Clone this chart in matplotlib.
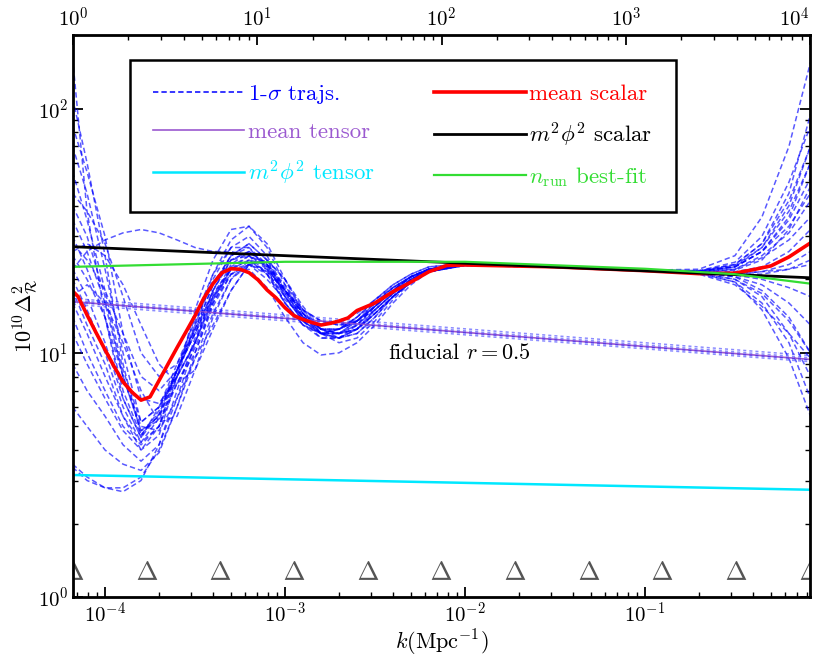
import numpy as np
import matplotlib
matplotlib.use("Agg")
import matplotlib.pyplot as plt

plt.rcParams['font.family'] = 'cmr10'
plt.rcParams['mathtext.fontset'] = 'cm'
plt.rcParams['axes.unicode_minus'] = False
plt.rcParams['axes.formatter.use_mathtext'] = True

# k range of the plot (Mpc^-1)
k_min, k_max = 6.64e-5, 0.826

# knot positions (shown as Delta markers)
knots = [6.64e-5, 1.70e-4, 4.38e-4, 1.12e-3, 2.88e-3, 7.40e-3,
         1.90e-2, 4.88e-2, 1.25e-1, 3.22e-1, 8.26e-1]

# mean scalar spectrum
red_logk = [-4.18, -4.15, -4.10, -4.05, -4.00, -3.95, -3.90, -3.85, -3.80, -3.75,
            -3.70, -3.65, -3.60, -3.55, -3.50, -3.45, -3.40, -3.35, -3.30, -3.25,
            -3.20, -3.15, -3.10, -3.05, -3.00, -2.95, -2.90, -2.85, -2.80, -2.75,
            -2.70, -2.65, -2.60, -2.50, -2.40, -2.30, -2.20, -2.10, -2.00, -1.50,
            -1.00, -0.70, -0.50, -0.40, -0.30, -0.20, -0.14, -0.08]
mean_scalar = [17.9, 17.0, 14.3, 12.1, 10.3, 8.8, 7.6, 6.9, 6.4, 6.6,
               7.7, 9.0, 10.5, 12.2, 14.2, 16.8, 19.2, 21.3, 22.1, 22.0,
               21.3, 19.9, 18.1, 16.8, 15.3, 14.2, 13.7, 13.3, 13.0, 13.2,
               13.5, 13.9, 14.9, 16.0, 17.8, 19.5, 21.5, 22.8, 22.9, 22.5,
               21.7, 21.1, 21.2, 21.9, 22.7, 24.7, 26.4, 28.2]

# k grid (log10 k) for the 1-sigma trajectories
logk = [-4.18, -4.1, -4.0, -3.9, -3.8, -3.7, -3.6, -3.5, -3.4, -3.3, -3.2,
        -3.1, -3.0, -2.9, -2.8, -2.7, -2.6, -2.5, -2.4, -2.3, -2.2, -2.0,
        -1.5, -1.0, -0.7, -0.5, -0.35, -0.2, -0.08]

trajs = [
    [160, 38, 14, 6.5, 4.5, 6, 9, 13.5, 19.5, 24, 25, 21, 16, 13, 12, 12.5, 14, 16.5, 19, 21, 22.5, 23.2, 22.6, 21.8, 21.3, 21, 21.5, 23, 26],
    [110, 60, 25, 9, 4.6, 5.8, 8.5, 12.5, 19, 25, 28, 24, 17, 13.5, 12, 12.5, 14, 16, 18.5, 20.5, 22, 23, 22.5, 21.7, 21.6, 22.5, 26, 36, 60],
    [70, 45, 22, 10, 5.2, 6, 8, 11, 17, 23, 26, 23, 18, 14.5, 12.5, 12.5, 13.5, 15.5, 18, 20, 21.5, 22.8, 22.4, 21.8, 21.6, 23, 28, 45, 95],
    [45, 38, 28, 17, 10, 8, 9, 12.5, 17.5, 22, 23, 20, 16.5, 14, 13, 13.5, 14.5, 16.5, 18.5, 20.5, 22, 23, 22.5, 21.8, 21.4, 21.8, 24, 32, 48],
    [3.4, 3.0, 2.8, 2.7, 3.0, 4.2, 7, 11.5, 17, 22, 24, 21, 16, 13, 11.5, 11.5, 13, 15.5, 18, 20.5, 22, 23, 22.4, 21.7, 21.2, 20, 17, 12, 8],
    [3.5, 3.1, 2.8, 2.8, 3.1, 4, 6, 9.5, 14.5, 20, 23, 22, 18, 14.5, 12.5, 12, 12.5, 14.5, 17, 19.5, 21.5, 22.8, 22.5, 21.8, 21.4, 20.5, 18, 14, 10],
    [16, 12, 8, 5.5, 4.3, 5, 8, 13, 20, 27, 30, 25, 18, 13.5, 11.5, 11.5, 12.5, 15, 17.5, 20, 22, 23, 22.5, 21.8, 21.5, 22.5, 26, 35, 52],
    [22, 26, 29, 31, 32, 31, 29, 27, 26, 26, 25, 22, 18, 15, 13.5, 13, 13.5, 15.5, 18, 20.5, 22, 23, 22.6, 21.8, 21.4, 21.5, 22.5, 26, 32],
    [25, 20, 14, 8, 5, 4.8, 6.5, 9.5, 13, 18, 23, 24, 20, 15, 12, 11, 11.5, 13.5, 16.5, 19.5, 21.5, 23, 22.5, 21.8, 21.2, 19.5, 15, 9.5, 5.5],
    [30, 22, 14, 7, 4.6, 5.6, 8.5, 13, 21, 29, 33, 28, 20, 14.5, 12, 11.5, 12, 14, 17, 19.5, 21.5, 23, 22.5, 21.8, 21.7, 23.5, 30, 50, 85],
    [18, 13, 9, 5.5, 4.0, 5.0, 7.5, 10.5, 16, 21, 22, 18.5, 14, 11, 9.8, 10, 11, 13, 16, 19, 21.5, 23, 22.5, 21.8, 21.1, 19.5, 16, 11, 6.5],
    [22, 17, 11, 6.5, 4.5, 5.6, 8.5, 12, 18, 24, 26, 22.5, 17.5, 14, 12.5, 12.5, 13.5, 15, 17.5, 20, 22, 23, 22.5, 21.7, 21.6, 22.8, 27, 38, 60],
    [55, 35, 18, 8.5, 5.2, 6, 8.5, 12, 18, 24, 26, 23, 18, 14.5, 12.5, 12.5, 13.5, 15.5, 18, 20.5, 22, 23, 22.5, 21.8, 21.2, 20.5, 19, 16, 13],
    [9, 7, 5.5, 4.2, 3.6, 4.2, 6.5, 11, 18, 25, 28, 24, 18, 14, 12, 12, 13, 15, 17.5, 20, 22, 23, 22.5, 21.8, 21.5, 22, 25, 31, 42],
    [28, 24, 18, 12, 8, 7, 8.5, 12, 17, 21, 23, 21.5, 18, 15, 13.5, 13, 13.5, 15.5, 18, 20.5, 22, 23, 22.5, 21.8, 21.5, 22, 24.5, 29, 36],
    [14, 10, 7, 5, 4.2, 5, 8.5, 14, 21, 27, 27, 22, 16, 13, 12, 12.5, 14, 16.5, 19, 21, 22.5, 23.2, 22.6, 21.8, 21.0, 19.0, 15.5, 12, 9.5],
    [40, 30, 17, 8, 4.8, 5.5, 8, 11, 16.5, 22, 24, 21.5, 17, 13.5, 12, 12, 13.5, 16, 18.5, 20.5, 22, 23, 22.5, 21.8, 22.0, 25, 36, 70, 155],
    [20, 15, 10, 6, 4.3, 5.4, 8.5, 12.5, 19, 25, 27, 23, 17, 13.5, 12, 11.5, 12.5, 14.5, 17, 19.5, 21.5, 23, 22.5, 21.8, 21.3, 20.8, 20, 18.5, 17],
    [85, 55, 30, 12, 6.5, 6.2, 8, 11, 16.5, 22.5, 25, 22.5, 17.5, 14, 12.5, 12, 13, 15.5, 18, 20.5, 22, 23, 22.5, 21.8, 21.6, 22.5, 26, 33, 45],
    [6, 5, 4, 3.5, 3.3, 3.9, 6, 10, 15.5, 21, 23, 21, 17, 14, 12.5, 12, 12.5, 14.5, 17, 19.5, 21.5, 22.8, 22.4, 21.8, 21.4, 21, 21, 22, 24],
    [26, 28, 25, 19, 13, 9, 7.5, 8.5, 12.5, 18, 23, 24, 20, 15.5, 12.5, 11.5, 12, 14, 17, 19.5, 21.5, 23, 22.5, 21.8, 21.4, 21.2, 21.5, 22, 23],
    [12, 9, 6.5, 4.8, 4, 4.6, 8, 15, 24, 32, 33, 27, 19, 14, 12, 12, 13.5, 16, 18.5, 20.5, 22, 23, 22.5, 21.8, 21.5, 22.5, 27, 40, 70],
    [17, 19, 16, 11, 7, 5.2, 5.5, 8.5, 14, 20, 24, 23, 19, 15, 12.5, 12, 12.5, 14.5, 17, 19.5, 21.5, 22.8, 22.5, 21.8, 21.2, 20, 17.5, 13.5, 10],
    [35, 26, 16, 8, 4.8, 5.3, 7.5, 10, 16, 22, 25, 23, 18.5, 14.5, 12, 11.5, 12.5, 15, 17.5, 20, 22, 23, 22.5, 21.8, 21.7, 23, 28, 42, 70],
]

# tensor curves (fiducial r = 0.5), values at k_min and k_max
mean_tensor = [16.2, 9.4]
tensor_trajs = [[15.8, 9.2], [16.1, 9.35], [16.4, 9.55], [16.7, 9.75]]
m2phi2_tensor = [3.16, 2.75]
m2phi2_scalar = [27.2, 20.3]

# running best fit
nrun_logk = [-4.18, -3.0, -2.0, -1.0, -0.5, -0.08]
nrun_fit = [22.5, 23.6, 23.6, 22.1, 21.0, 19.2]

k_ends = [k_min, k_max]

fig = plt.figure(figsize=(8.17, 6.61), dpi=100)
ax = fig.add_axes([0.0894, 0.0968, 0.902, 0.850])

for i, t in enumerate(trajs):
    ax.plot(10.0 ** np.array(logk), t, ls='--', dashes=(3.5, 2), color='blue',
            lw=1.1, alpha=0.65, label='1-$\\sigma$ trajs.' if i == 0 else None)

ax.plot(k_ends, mean_tensor, color='#9b59d0', lw=1.2, label='mean tensor')
for t in tensor_trajs:
    ax.plot(k_ends, t, ls='--', dashes=(2, 2), color='blue', lw=1.1, alpha=0.45)
ax.plot(k_ends, m2phi2_tensor, color='#00e8ff', lw=1.8, label='$m^2\\phi^2$ tensor')
ax.plot(10.0 ** np.array(red_logk), mean_scalar, color='red', lw=2.6,
        solid_joinstyle='round', label='mean scalar')
ax.plot(k_ends, m2phi2_scalar, color='black', lw=2.0, label='$m^2\\phi^2$ scalar')
ax.plot(10.0 ** np.array(nrun_logk), nrun_fit, color='#33dd33', lw=1.6,
        label='$n_{\\rm run}$ best-fit')

ax.plot(knots, [1.29] * len(knots), ls='none', marker='$\\Delta$', ms=14,
        color='#555555', mew=0)

ax.text(3.73e-3, 10.0, 'fiducial $r = 0.5$', fontsize=16, ha='left', va='center')

ax.set_xscale('log')
ax.set_yscale('log')
ax.set_xlim(k_min, k_max)
ax.set_ylim(1, 200)
ax.set_xlabel('$k(\\mathrm{Mpc}^{-1})$', fontsize=16, labelpad=1)
ax.set_ylabel('$10^{10}\\Delta^2_{\\mathcal{R}}$', fontsize=16, labelpad=-2)
ax.tick_params(which='both', direction='in', top=False, right=True, labelsize=15)
ax.tick_params(which='major', length=7, width=1.3)
ax.tick_params(which='minor', length=3.5, width=1.0)
for s in ax.spines.values():
    s.set_linewidth(2.0)

ax2 = ax.twiny()
ax2.set_xscale('log')
ax2.set_xlim(1, 1e4)
ax2.set_xticks([1, 10, 100, 1000, 10000])
ax2.set_xticklabels(['$10^0$', '$10^1$', '$10^2$', '$10^3$', '$10^4$'])
ax2.get_xticklabels()[-1].set_horizontalalignment('right')
ax2.tick_params(which='both', direction='in', labelsize=15)
ax2.tick_params(which='major', length=7, width=1.3)
ax2.tick_params(which='minor', length=3.5, width=1.0)

leg = ax.legend(ncol=2, loc='upper left', bbox_to_anchor=(0.077, 0.955),
                borderaxespad=0, fontsize=16.5, handlelength=4.0, handletextpad=0.15,
                columnspacing=2.6, labelspacing=0.7, borderpad=1.0,
                labelcolor='linecolor', fancybox=False, framealpha=1)
leg.get_frame().set_edgecolor('black')
leg.get_frame().set_linewidth(1.8)
for lh in leg.get_lines():
    lh.set_alpha(1)

fig.savefig('out.png', dpi=100)
